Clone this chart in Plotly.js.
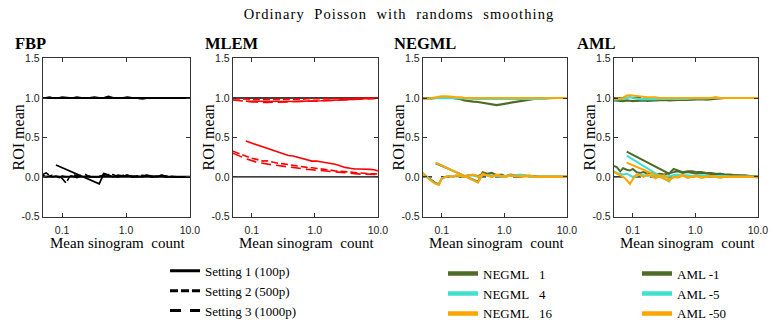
<!DOCTYPE html>
<html>
<head>
<meta charset="utf-8">
<script src="https://cdn.plot.ly/plotly-3.0.1.min.js"></script>
<style>html,body{margin:0;padding:0;background:#fff;}#chart{width:773px;height:329px;}
#chart .gtitle{letter-spacing:1.1px;}</style>
</head>
<body>
<div id="chart"></div>
<script>
// ---------- data ----------
const chartTitle = 'Ordinary\u00A0 Poisson\u00A0 with\u00A0 randoms\u00A0 smoothing';
const panelNames = ['FBP', 'MLEM', 'NEGML', 'AML'];
const xTitle = 'Mean sinogram\u00A0 count';
const yTitle = 'ROI mean';
const xTickVals = [0.1, 1, 10];
const xTickText = ['0.1', '1.0', '10.0'];
const yTickVals = [-0.5, 0, 0.5, 1, 1.5];
const yTickText = ['-0.5', '0.0', '0.5', '1.0', '1.5'];
const settingNames = ['Setting 1 (100p)', 'Setting 2 (500p)', 'Setting 3 (1000p)'];
const negmlNames = ['NEGML\u00A0\u00A0 1', 'NEGML\u00A0\u00A0 4', 'NEGML\u00A0\u00A0 16'];
const amlNames = ['AML -1', 'AML -5', 'AML -50'];

// mean sinogram count grids
const X = [0.05,0.056,0.063,0.07,0.08,0.09,0.1,0.115,0.13,0.15, 0.17,0.2,0.23,0.27,0.32,0.38,0.45,0.53,0.63,0.75, 0.9,1.05,1.25,1.5,1.8,2.1,2.5,3,3.6,4.3, 5.2,6.2,7.4,8.8,10];
const XS = [0.08,0.38,0.45,0.53,0.63,0.75,0.9,1.05,1.25,1.5, 1.8,2.1,2.5,3,3.6,4.3,5.2,6.2,7.4,8.8, 10];

// FBP
const fbpHigh = [1.0,1.0,1.01,1.0,1.0,1.0,1.01,1.0,1.0,1.0, 1.01,1.0,1.0,1.0,1.01,1.0,1.0,1.02,1.0,1.0, 1.0,1.01,1.0,1.0,0.99,1.0,1.0,1.0,1.0,1.0, 1.0,1.0,1.0,1.0,1.0];
const fbpLowS1 = [0.15,-0.09,0.04,0.02,0.0,0.02,0.01,0.02,0.0,0.01, 0.0,0.02,0.01,0.0,0.02,0.0,0.0,0.0,0.0,0.0, 0.0];
const fbpLowS2 = [0.03,0.05,0.02,0.0,0.01,0.0,-0.02,-0.08,0.0,0.03, 0.01,0.02,0.0,0.01,0.0,0.0,0.04,0.02,0.03,0.0, 0.01,0.02,0.0,0.01,0.02,0.01,0.0,0.01,0.02,0.01, 0.0,0.0,0.0,0.0,0.0];
const fbpLowS3 = [0.02,0.0,0.01,0.02,0.0,-0.01,0.01,0.0,0.02,0.0, -0.01,0.01,0.03,0.0,0.0,0.01,0.02,0.03,0.01,0.0, 0.02,0.01,0.01,0.0,0.01,0.02,0.0,0.0,0.01,0.0, 0.0,0.0,0.0,0.0,0.0];

// MLEM
const mlemHighS1 = [0.96,0.95,0.955,0.955,0.96,0.96,0.96,0.965,0.965,0.97, 0.97,0.975,0.975,0.98,0.98,0.985,0.985,0.99,0.99,0.995, 1.0];
const mlemHighS2 = [0.99,0.99,0.99,0.985,0.985,0.985,0.98,0.98,0.98,0.98, 0.98,0.98,0.98,0.98,0.98,0.985,0.985,0.985,0.985,0.99, 0.99,0.99,0.99,0.99,0.99,0.99,0.995,0.995,0.995,0.995, 1.0,1.0,1.0,1.0,1.0];
const mlemHighS3 = [0.975,0.97,0.965,0.96,0.955,0.95,0.95,0.95,0.945,0.945, 0.945,0.945,0.95,0.95,0.95,0.95,0.955,0.955,0.955,0.96, 0.96,0.96,0.965,0.965,0.97,0.97,0.975,0.975,0.98,0.985, 0.985,0.99,0.99,0.995,1.0];
const mlemLowS1 = [0.454,0.27,0.265,0.25,0.24,0.22,0.2,0.2,0.19,0.18, 0.175,0.16,0.14,0.12,0.11,0.1,0.1,0.1,0.095,0.09, 0.075];
const mlemLowS2 = [0.325,0.31,0.29,0.28,0.26,0.245,0.235,0.225,0.21,0.2, 0.205,0.19,0.18,0.17,0.165,0.155,0.15,0.14,0.13,0.12, 0.115,0.11,0.1,0.09,0.085,0.075,0.07,0.06,0.055,0.05, 0.045,0.045,0.04,0.04,0.035];
const mlemLowS3 = [0.3,0.28,0.26,0.25,0.23,0.215,0.2,0.19,0.18,0.17, 0.165,0.155,0.15,0.14,0.13,0.125,0.12,0.11,0.1,0.095, 0.09,0.085,0.08,0.07,0.065,0.06,0.055,0.05,0.045,0.04, 0.035,0.035,0.03,0.03,0.03];

// NEGML (beta 1, 4, 16)
const negHigh1 = [0.99,0.99,0.99,0.995,1.0,1.0,1.01,1.0,1.0,1.0, 0.995,0.985,0.97,0.96,0.955,0.95,0.94,0.93,0.92,0.91, 0.92,0.93,0.94,0.95,0.965,0.975,0.985,0.99,1.0,1.0, 1.0,1.0,1.0,1.0,1.0];
const negHigh4 = [0.99,0.99,0.99,1.0,1.0,1.0,1.0,1.0,1.0,1.0, 1.0,1.0,1.0,0.995,0.99,0.99,0.99,0.99,0.99,0.99, 0.99,0.99,0.985,0.985,0.985,0.985,0.985,0.99,0.99,0.99, 0.995,1.0,1.0,1.0,1.0];
const negHigh16 = [0.99,0.99,0.995,1.0,1.01,1.02,1.02,1.02,1.02,1.015, 1.01,1.01,1.0,1.0,1.0,1.0,0.995,0.995,1.0,1.0, 1.0,1.0,1.0,1.0,1.0,1.0,1.0,1.0,1.0,1.0, 1.0,1.0,1.0,1.0,1.0];
const negLowS1 = [0.17,-0.06,0.06,0.04,0.05,0.02,0.03,0.0,0.03,0.02, 0.01,0.02,0.0,0.01,0.0,0.0,0.0,0.0,0.0,0.0, 0.0];
const negLowS4 = [0.18,-0.07,0.03,0.02,0.01,0.02,0.0,0.01,0.01,0.02, 0.03,0.02,0.0,0.0,0.0,0.0,0.0,0.0,0.0,0.0, 0.0];
const negLowS16 = [0.18,-0.07,0.04,0.02,0.0,0.03,0.01,0.0,0.02,0.01, 0.0,0.01,0.02,0.0,0.0,0.0,0.0,0.0,0.0,0.0, 0.0];
const negLowD1 = [0.04,0.01,-0.02,-0.05,-0.08,-0.09,-0.02,0.0,0.01,0.0, 0.01,0.0,0.01,0.02,0.02,0.01,0.04,0.03,0.01,0.02, 0.02,0.01,0.02,0.01,0.0,0.01,0.01,0.0,0.0,0.0, 0.0,0.0,0.0,0.0,0.0];
const negLowD4 = [0.05,0.01,-0.03,-0.06,-0.09,-0.1,-0.02,0.0,0.01,0.0, 0.02,0.01,0.0,0.02,0.02,0.0,0.02,0.02,0.01,0.01, 0.01,0.01,0.02,0.01,0.02,0.02,0.01,0.0,0.0,0.0, 0.0,0.0,0.0,0.0,0.0];
const negLowD16 = [0.05,0.0,-0.03,-0.06,-0.09,-0.1,-0.02,0.0,0.01,0.0, 0.02,0.01,0.0,0.02,0.03,0.0,0.03,0.02,0.0,0.02, 0.01,0.0,0.02,0.01,0.01,0.0,0.01,0.0,0.0,0.0, 0.0,0.0,0.0,0.0,0.0];

// AML (A = -1, -5, -50)
const amlHigh1 = [0.97,0.97,0.965,0.96,0.97,0.965,0.96,0.965,0.97,0.97, 0.965,0.97,0.97,0.975,0.975,0.97,0.975,0.975,0.98,0.975, 0.98,0.98,0.985,0.98,0.985,0.99,1.0,1.0,1.0,1.0, 1.0,1.0,1.0,1.0,1.0];
const amlHigh5 = [0.98,0.98,0.985,0.99,1.0,1.01,1.0,0.99,0.985,0.99, 0.985,0.99,0.985,0.99,0.99,0.985,0.99,0.99,0.99,0.99, 0.995,0.995,0.99,0.995,1.0,1.0,1.0,1.0,1.0,1.0, 1.0,1.0,1.0,1.0,1.0];
const amlHigh50 = [0.99,0.99,0.995,1.0,1.03,1.035,1.03,1.03,1.02,1.02, 1.01,1.01,1.01,1.0,1.0,1.0,1.0,1.0,1.0,1.0, 0.995,1.0,1.0,1.0,1.0,1.01,1.0,1.0,1.0,1.0, 1.0,1.0,1.0,1.0,1.0];
const amlLowS1 = [0.32,0.04,0.1,0.08,0.06,0.07,0.07,0.06,0.06,0.05, 0.05,0.04,0.04,0.03,0.03,0.02,0.02,0.02,0.01,0.01, 0.005];
const amlLowS5 = [0.27,-0.06,0.02,0.03,0.01,0.02,0.01,0.02,0.0,0.01, 0.01,0.0,0.01,0.0,0.0,0.0,0.0,0.0,0.0,0.0, 0.0];
const amlLowS50 = [0.18,-0.05,0.0,-0.01,0.02,-0.01,0.0,0.01,-0.01,0.0, 0.01,0.0,-0.01,0.0,0.0,0.0,0.0,0.0,0.0,0.0, -0.01];
const amlLowD1 = [0.14,0.12,0.07,0.11,0.09,0.08,0.1,0.06,0.05,0.06, 0.04,0.05,0.03,0.04,0.03,0.05,0.06,0.07,0.05,0.06, 0.05,0.04,0.05,0.04,0.03,0.03,0.04,0.02,0.02,0.02, 0.01,0.01,0.01,0.01,0.0];
const amlLowD5 = [0.07,0.05,0.04,0.03,0.04,0.02,0.0,0.01,0.03,0.02, 0.01,0.02,0.01,0.02,0.0,0.01,0.02,0.01,0.02,0.01, 0.0,0.01,0.02,0.01,0.0,0.01,0.0,0.01,0.0,0.0, 0.0,0.0,0.0,0.0,0.0];
const amlLowD50 = [0.06,0.04,0.02,0.0,-0.04,-0.09,-0.03,0.03,0.02,0.0, 0.03,0.01,-0.02,0.01,0.02,-0.03,-0.01,0.0,0.02,-0.01, 0.0,0.01,-0.01,0.0,0.01,0.0,-0.01,0.0,0.0,0.0, 0.0,0.0,0.0,0.0,-0.01];

// ---------- styling ----------
const GREEN = '#4f6b28', CYAN = '#40e0d0', ORANGE = '#ffa500', RED = '#ff0000';
const DASH2 = '7px,3px', DASH3 = '10px,5px';
const SERIF = 'Liberation Serif, Times New Roman, serif';
const SANS = 'Liberation Sans, Arial, sans-serif';

const traces = [];
function line(ax, x, y, color, width, dash) {
  traces.push({x: x, y: y, xaxis: 'x' + (ax === 1 ? '' : ax), yaxis: 'y' + (ax === 1 ? '' : ax),
    type: 'scatter', mode: 'lines', line: {color: color, width: width, dash: dash || 'solid'},
    showlegend: false, hoverinfo: 'skip'});
}
// FBP
line(1, X, fbpHigh, '#000', 2);
line(1, X, fbpLowS3, '#000', 1.6, DASH3);
line(1, X, fbpLowS2, '#000', 1.6, DASH2);
line(1, XS, fbpLowS1, '#000', 1.8);
// MLEM
line(2, X, mlemHighS3, RED, 1.6, DASH3);
line(2, X, mlemHighS2, RED, 1.6, DASH2);
line(2, XS, mlemHighS1, RED, 1.6);
line(2, X, mlemLowS3, RED, 1.6, DASH3);
line(2, X, mlemLowS2, RED, 1.6, DASH2);
line(2, XS, mlemLowS1, RED, 1.6);
// NEGML
[[negHigh1, negLowD1, negLowS1, GREEN], [negHigh4, negLowD4, negLowS4, CYAN], [negHigh16, negLowD16, negLowS16, ORANGE]].forEach(function (s) {
  line(3, X, s[0], s[3], 2.2);
  line(3, X, s[1], s[3], 2);
  line(3, XS, s[2], s[3], 2);
});
// AML
[[amlHigh1, amlLowD1, amlLowS1, GREEN], [amlHigh5, amlLowD5, amlLowS5, CYAN], [amlHigh50, amlLowD50, amlLowS50, ORANGE]].forEach(function (s) {
  line(4, X, s[0], s[3], 2.2);
  line(4, X, s[1], s[3], 2);
  line(4, XS, s[2], s[3], 2);
});

// legend-only entries
function legendItem(name, legend, color, width, dash) {
  traces.push({x: [null], y: [null], type: 'scatter', mode: 'lines', name: name, legend: legend,
    line: {color: color, width: width, dash: dash || 'solid'}, showlegend: true, hoverinfo: 'skip'});
}
legendItem(settingNames[0], 'legend', '#000', 3, 'solid');
legendItem(settingNames[1], 'legend', '#000', 3, '8px,3px');
legendItem(settingNames[2], 'legend', '#000', 3, '11px,9px');
[GREEN, CYAN, ORANGE].forEach(function (c, i) {
  legendItem(negmlNames[i], 'legend2', c, 4.5, 'solid');
  legendItem(amlNames[i], 'legend3', c, 4.5, 'solid');
});

// ---------- layout ----------
const W = 773, H = 329;
const xDom = [[43, 190], [233, 378], [423, 567], [614, 758]];
const yTop = 61, yBot = 227;
const titleX = [13, 203, 392, 575];

const layout = {
  width: W, height: H, margin: {l: 0, r: 0, t: 0, b: 0},
  paper_bgcolor: '#fff', plot_bgcolor: '#fff',
  font: {family: SERIF, color: '#000'},
  title: {text: chartTitle, x: 399 / W, xanchor: 'center', y: 1 - 14 / H, yanchor: 'middle',
    font: {family: SERIF, size: 14.5, color: '#000'}},
  annotations: [], shapes: []
};
const legendBase = {bgcolor: 'rgba(0,0,0,0)', borderwidth: 0, traceorder: 'normal',
  font: {family: SERIF, size: 13, color: '#000'}, xanchor: 'left', yanchor: 'top'};
layout.legend = Object.assign({}, legendBase, {x: 165 / W, y: 1 - 268 / H});
layout.legend2 = Object.assign({}, legendBase, {x: 443 / W, y: 1 - 271 / H});
layout.legend3 = Object.assign({}, legendBase, {x: 637 / W, y: 1 - 271 / H});

for (let i = 0; i < 4; i++) {
  const sfx = i === 0 ? '' : String(i + 1);
  layout['xaxis' + sfx] = {
    domain: [xDom[i][0] / W, xDom[i][1] / W], anchor: 'y' + sfx, type: 'log', range: [-1.3, 1.002],
    tickvals: xTickVals, ticktext: xTickText, ticks: 'inside', ticklen: 4, tickcolor: '#333',
    ticklabelstandoff: 4,
    showline: true, linecolor: '#333', linewidth: 1.2, mirror: 'allticks', showgrid: false, zeroline: false,
    tickfont: {family: SANS, size: 10.5, color: '#222'}
  };
  layout['yaxis' + sfx] = {
    domain: [1 - yBot / H, 1 - yTop / H], anchor: 'x' + sfx, range: [-0.505, 1.505],
    tickvals: yTickVals, ticktext: yTickText, ticks: 'inside', ticklen: 4, tickcolor: '#333',
    showline: true, linecolor: '#333', linewidth: 1.2, mirror: 'allticks', showgrid: false, zeroline: false,
    tickfont: {family: SANS, size: 10.5, color: '#222'}
  };
  // panel title
  layout.annotations.push({text: '<b>' + panelNames[i] + '</b>', xref: 'paper', yref: 'paper',
    x: titleX[i] / W, y: 1 - 46 / H, xanchor: 'left', yanchor: 'middle', showarrow: false,
    font: {family: SERIF, size: 16.5, color: '#000'}});
  // axis titles
  layout.annotations.push({text: yTitle, xref: 'paper', yref: 'paper', textangle: -90,
    x: (xDom[i][0] - 25) / W, y: 1 - ((yTop + yBot) / 2) / H, xanchor: 'center', yanchor: 'middle',
    showarrow: false, font: {family: SERIF, size: 16, color: '#000'}});
  layout.annotations.push({text: xTitle, xref: 'paper', yref: 'paper', borderpad: 0,
    x: ((xDom[i][0] + xDom[i][1]) / 2 + 1) / W, y: 1 - 255 / H, xanchor: 'center', yanchor: 'middle',
    showarrow: false, font: {family: SERIF, size: 15, color: '#000'}});
  // reference levels 1.0 and 0.0
  const refDash = i < 2 ? 'solid' : 'dash';
  const refW = i === 0 ? 2 : 1.4;
  [1, 0].forEach(function (lv) {
    layout.shapes.push({type: 'line', xref: 'x' + sfx + ' domain', yref: 'y' + sfx, x0: 0, x1: 1, y0: lv, y1: lv,
      layer: 'below', line: {color: '#000', width: refW, dash: refDash}});
  });
}

Plotly.newPlot('chart', traces, layout, {staticPlot: true, displayModeBar: false});
</script>
</body>
</html>
